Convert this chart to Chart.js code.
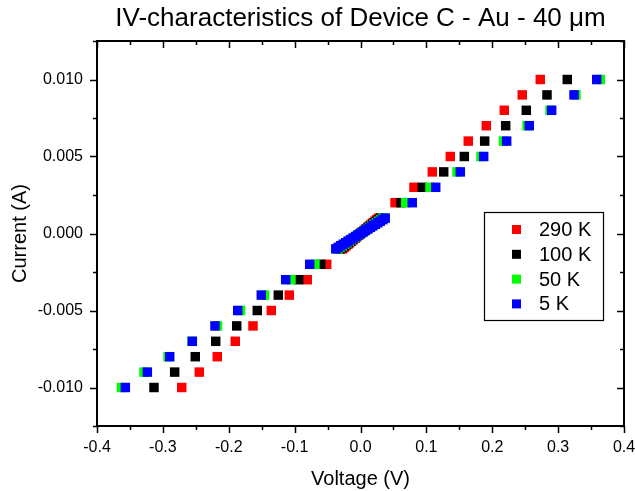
<!DOCTYPE html>
<html>
<head>
<meta charset="utf-8">
<title>IV-characteristics of Device C</title>
<script src="https://cdn.jsdelivr.net/npm/chart.js@4.4.1/dist/chart.umd.min.js"></script>
<style>
  html, body { margin: 0; padding: 0; background: #fff; }
  #wrap { width: 635px; height: 491px; }
</style>
</head>
<body>
<div id="wrap"><canvas id="iv-chart" width="635" height="491"></canvas></div>
<script>
// --- data ---
const current = [
  -0.010, -0.009, -0.008, -0.007, -0.006, -0.005, -0.004, -0.003, -0.002,
  -0.0010, -0.0009, -0.0008, -0.0007, -0.0006, -0.0005, -0.0004, -0.0003, -0.0002, -0.0001, 0,
  0.0001, 0.0002, 0.0003, 0.0004, 0.0005, 0.0006, 0.0007, 0.0008, 0.0009, 0.0010,
  0.002, 0.003, 0.004, 0.005, 0.006, 0.007, 0.008, 0.009, 0.010
];

const temps = ['290 K', '100 K', '50 K', '5 K'];
const colors = ['#ff0000', '#000000', '#00ff00', '#0000ff'];

const v290 = [
  -0.2714, -0.2447, -0.2174, -0.1901, -0.1632, -0.1354, -0.1081, -0.0808, -0.0513,
  -0.0273, -0.0246, -0.0218, -0.0191, -0.0164, -0.0137, -0.0109, -0.0082, -0.0055, -0.0027, 0,
  0.0027, 0.0055, 0.0082, 0.0109, 0.0137, 0.0164, 0.0191, 0.0218, 0.0246, 0.0273,
  0.0524, 0.0812, 0.1090, 0.1363, 0.1636, 0.1910, 0.2183, 0.2456, 0.2729
];
const v100 = [
  -0.3135, -0.2821, -0.2508, -0.2198, -0.1879, -0.1567, -0.1248, -0.0938, -0.0604,
  -0.0310, -0.0279, -0.0248, -0.0217, -0.0186, -0.0155, -0.0124, -0.0093, -0.0062, -0.0031, 0,
  0.0031, 0.0062, 0.0093, 0.0124, 0.0155, 0.0186, 0.0217, 0.0248, 0.0279, 0.0310,
  0.0615, 0.0938, 0.1263, 0.1576, 0.1885, 0.2204, 0.2517, 0.2831, 0.3139
];
const v50 = [
  -0.3628, -0.3287, -0.2922, -0.2558, -0.2171, -0.1822, -0.1457, -0.1055, -0.0691,
  -0.0345, -0.0311, -0.0276, -0.0242, -0.0207, -0.0173, -0.0138, -0.0104, -0.0069, -0.0035, 0,
  0.0035, 0.0069, 0.0104, 0.0138, 0.0173, 0.0207, 0.0242, 0.0276, 0.0311, 0.0345,
  0.0686, 0.1055, 0.1465, 0.1829, 0.2171, 0.2528, 0.2877, 0.3271, 0.3640
];
const v5 = [
  -0.3570, -0.3236, -0.2896, -0.2553, -0.2209, -0.1864, -0.1506, -0.1135, -0.0771,
  -0.0375, -0.0338, -0.0300, -0.0263, -0.0225, -0.0188, -0.0150, -0.0113, -0.0075, -0.0038, 0,
  0.0038, 0.0075, 0.0113, 0.0150, 0.0188, 0.0225, 0.0263, 0.0300, 0.0338, 0.0375,
  0.0786, 0.1142, 0.1515, 0.1870, 0.2219, 0.2562, 0.2902, 0.3241, 0.3586
];
const voltages = [v290, v100, v50, v5];

const FONT = "'Liberation Sans', Arial, sans-serif";

// --- frame, minor/major ticks, title and legend box (Origin look) ---
const originFrame = {
  id: 'originFrame',
  afterDraw(chart) {
    const ctx = chart.ctx;
    const a = chart.chartArea;
    const xs = chart.scales.x, ys = chart.scales.y;
    ctx.save();
    ctx.strokeStyle = '#000';

    // ticks
    ctx.lineWidth = 1.5;
    ctx.beginPath();
    xs.ticks.forEach(t => {
      const px = Math.round(xs.getPixelForValue(t.value)) + 0.5;
      const major = Math.abs(Math.round(t.value * 100)) % 10 === 0;
      const len = major ? 7 : 4;
      ctx.moveTo(px, a.bottom); ctx.lineTo(px, a.bottom + len);
      ctx.moveTo(px, a.top); ctx.lineTo(px, a.top + len);
    });
    ys.ticks.forEach(t => {
      const py = Math.round(ys.getPixelForValue(t.value)) + 0.5;
      const major = Math.abs(Math.round(t.value * 10000)) % 50 === 0;
      const len = major ? 7 : 4;
      ctx.moveTo(a.left, py); ctx.lineTo(a.left - len, py);
      ctx.moveTo(a.right, py); ctx.lineTo(a.right - len, py);
    });
    ctx.stroke();

    // frame
    ctx.lineWidth = 2;
    ctx.strokeRect(a.left, a.top, a.right - a.left, a.bottom - a.top);

    // title
    ctx.fillStyle = '#000';
    ctx.font = '26px ' + FONT;
    ctx.textAlign = 'center';
    ctx.textBaseline = 'middle';
    ctx.fillText('IV-characteristics of Device C - Au - 40 \u03bcm', (a.left + a.right) / 2, 19);

    // legend
    const bx = a.right - 140, by = a.top + 171, bw = 119, bh = 108;
    ctx.fillStyle = '#fff';
    ctx.fillRect(bx, by, bw, bh);
    ctx.lineWidth = 1.2;
    ctx.strokeRect(bx + 0.5, by + 0.5, bw, bh);
    ctx.font = '20px ' + FONT;
    ctx.textAlign = 'left';
    chart.data.datasets.forEach((ds, i) => {
      const cy = by + 17.5 + i * 24.8;
      ctx.fillStyle = ds.backgroundColor;
      ctx.fillRect(bx + 28, cy - 4.5, 9, 9);
      ctx.fillStyle = '#000';
      ctx.fillText(ds.label, bx + 55, cy + 1);
    });
    ctx.restore();
  }
};

const ctx = document.getElementById('iv-chart').getContext('2d');
new Chart(ctx, {
  type: 'scatter',
  data: {
    datasets: temps.map((label, i) => ({
      label: label,
      data: current.map((c, j) => ({ x: voltages[i][j], y: c })),
      backgroundColor: colors[i],
      borderColor: colors[i],
      borderWidth: 0,
      pointStyle: 'rect',
      pointRadius: 6.7,
      pointHoverRadius: 6.7,
      pointBorderWidth: 0,
      order: temps.length - 1 - i // 5 K drawn on top, like the original
    }))
  },
  options: {
    responsive: false,
    animation: false,
    devicePixelRatio: 1,
    layout: { padding: { left: 0, top: 41, right: 11, bottom: 0 } },
    plugins: {
      legend: { display: false },
      title: { display: false },
      tooltip: { enabled: false }
    },
    scales: {
      x: {
        type: 'linear',
        min: -0.4,
        max: 0.4,
        afterFit(scale) {
          scale.height = 65;
          scale.paddingLeft = 0;
          scale.paddingRight = 0;
        },
        grid: { display: false, drawTicks: false },
        border: { display: false },
        ticks: {
          stepSize: 0.05,
          autoSkip: false,
          maxRotation: 0,
          padding: 12,
          color: '#000',
          font: { family: FONT, size: 16 },
          callback: v => (Math.abs(Math.round(v * 100)) % 10 === 0 ? (Math.round(v * 10) / 10).toFixed(1) : '')
        },
        title: {
          display: true,
          text: 'Voltage (V)',
          color: '#000',
          font: { family: FONT, size: 20 },
          padding: { top: 1, bottom: 0 }
        }
      },
      y: {
        type: 'linear',
        min: -0.0125,
        max: 0.0125,
        afterFit(scale) {
          scale.width = 97;
          scale.paddingTop = 0;
          scale.paddingBottom = 0;
        },
        grid: { display: false, drawTicks: false },
        border: { display: false },
        ticks: {
          stepSize: 0.0025,
          autoSkip: false,
          padding: 14,
          color: '#000',
          font: { family: FONT, size: 16 },
          callback: v => (Math.abs(Math.round(v * 10000)) % 50 === 0 ? (Math.round(v * 1000) / 1000).toFixed(3) : '')
        },
        title: {
          display: true,
          text: 'Current (A)',
          color: '#000',
          font: { family: FONT, size: 20 },
          padding: { top: 8, bottom: 0 }
        }
      }
    }
  },
  plugins: [originFrame]
});
</script>
</body>
</html>
